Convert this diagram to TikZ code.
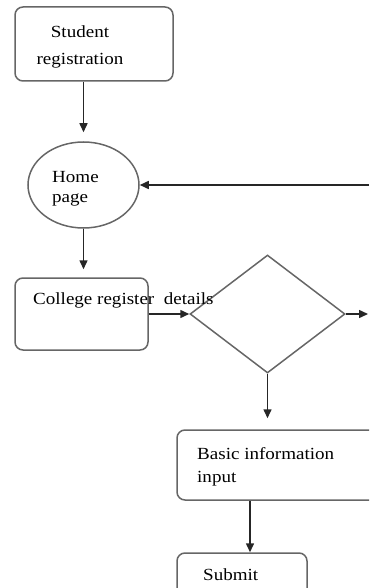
\documentclass[tikz,border=0pt]{standalone}
\usepackage{fontspec}
\setmainfont{Liberation Serif}[FakeStretch=1.12]
\usetikzlibrary{shapes.geometric,arrows.meta,positioning}

\begin{document}
\begin{tikzpicture}[x=1pt,y=1pt,
  box/.style={draw=black!60,line width=1.5pt,rounded corners=8pt,inner sep=0pt},
  txt/.style={inner sep=0pt,font=\fontsize{17}{27}\selectfont},
  arr/.style={draw=black!85,line width=1.5pt,-{Triangle[length=9pt,width=8pt]}}]
\clip (0,0) rectangle (369,-588);
%\draw[step=10,gray,very thin] (0,-588) grid (369,0); %background grid
\node[box,minimum width=158pt,minimum height=74pt] (stu) at (94,-44) {};
\node[draw=black!60,line width=1.5pt,ellipse,inner sep=0pt,minimum width=111pt,minimum height=86pt] (home) at (83.5,-185) {};
\node[box,minimum width=133pt,minimum height=72pt] (col) at (81.5,-314) {};
\node[draw=black!60,line width=1.5pt,diamond,inner sep=0pt,minimum width=155pt,minimum height=118pt] (dec) at (267.5,-314) {};
\node[box,minimum width=212pt,minimum height=70pt] (bas) at (283,-465) {};
\node[box,minimum width=130pt,minimum height=50pt] (sub) at (242,-578) {};
% texts (base = last line)
\node[txt,align=center,anchor=base] (stuT) at (80,-65) {Student\\registration};
\node[txt,align=left,anchor=base west,font=\fontsize{17}{20.5}\selectfont] (homeT) at (52,-202.5) {Home\\page};
\node[txt,anchor=base west] (colT) at (33,-304) {College register~ details};
\node[txt,align=left,anchor=base west,font=\fontsize{17}{23}\selectfont] (basT) at (197,-482) {Basic information\\input};
\node[txt,anchor=base west] (subT) at (203,-580) {Submit};
\coordinate (back) at (369,-185);
\coordinate (out) at (368,-314);
\draw[arr,shorten >=9pt] (home.north |- stu.south) -- (home.north);
\draw[arr,shorten >=8pt] (home.south) -- (home.south |- col.north);
\draw[arr] (back) -- (home.east);
\draw[arr] (col.east) -- (dec.west);
\draw[arr] (dec.east) -- (out);
\draw[arr,shorten >=11pt] (dec.south) -- (dec.south |- bas.north);
\draw[arr] ([xshift=8pt]sub.north |- bas.south) -- ([xshift=8pt]sub.north);
\end{tikzpicture}
\end{document}
